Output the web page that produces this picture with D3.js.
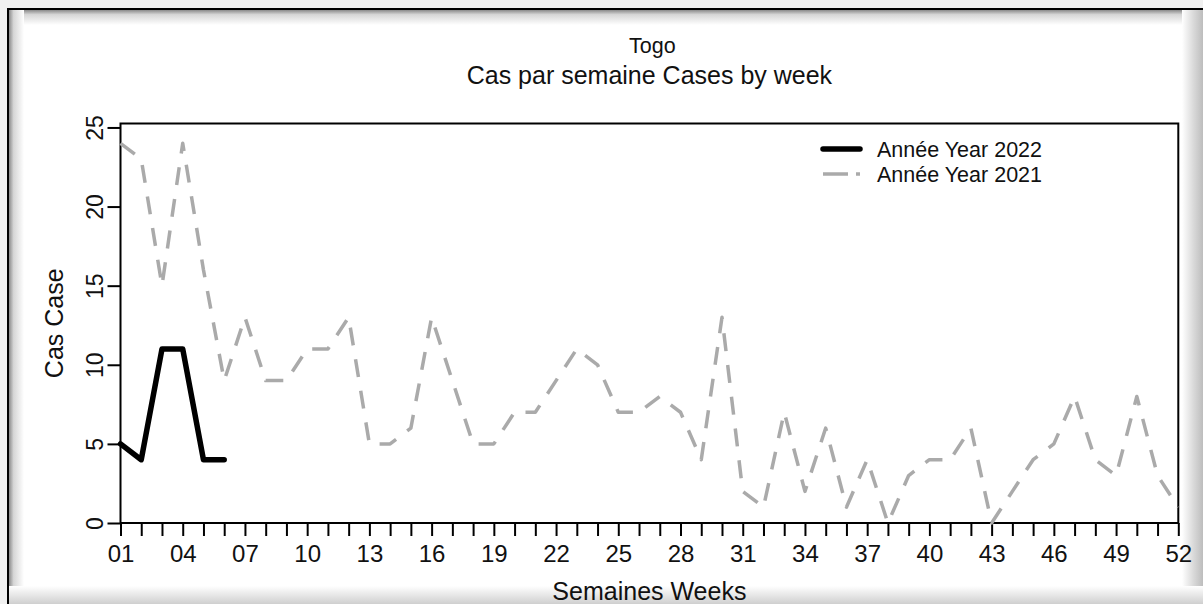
<!DOCTYPE html>
<html>
<head>
<meta charset="utf-8">
<script src="https://cdn.jsdelivr.net/npm/d3@7/dist/d3.min.js"></script>
<style>
  html, body { margin: 0; padding: 0; background: #f0f0f0; }
  svg { display: block; }
  text { font-family: "Liberation Sans", Arial, sans-serif; fill: #111; }
</style>
</head>
<body>
<svg id="chart" width="1203" height="604"></svg>
<script>
// Weekly case counts, Togo
const weeks = d3.range(1, 53);
const cases2022 = [5, 4, 11, 11, 4, 4];
const cases2021 = [24, 23, 15, 24, 16, 9, 13, 9, 9, 11, 11, 13, 5, 5, 6, 13, 9, 5, 5, 7,
                   7, 9, 11, 10, 7, 7, 8, 7, 4, 13, 2, 1, 7, 2, 6, 1, 4, 0, 3, 4,
                   4, 6, 0, 2, 4, 5, 8, 4, 3, 8, 3, 1];
const xTickLabels = ["01","04","07","10","13","16","19","22","25","28","31","34","37","40","43","46","49","52"];
const yTicks = [0, 5, 10, 15, 20, 25];
const titleLines = ["Togo", "Cas par semaine Cases by week"];
const xTitle = "Semaines Weeks";
const yTitle = "Cas Case";
const legendLabels = ["Année Year 2022", "Année Year 2021"];

const W = 1203, H = 604;
const plot = { left: 120.5, right: 1178.3, top: 123.5, bottom: 523 };

const svg = d3.select("#chart");
const defs = svg.append("defs");

// window frame: white canvas with inner shadow on top/left, soft shade right/bottom
function vGrad(id, stops, horizontal) {
  const g = defs.append("linearGradient").attr("id", id)
    .attr("x1", 0).attr("y1", 0).attr("x2", horizontal ? 1 : 0).attr("y2", horizontal ? 0 : 1);
  stops.forEach(([o, c]) => g.append("stop").attr("offset", o).attr("stop-color", c));
}
vGrad("shTop", [[0, "#7a7a7a"], [0.35, "#d6d6d6"], [1, "#ffffff"]], false);
vGrad("shLeft", [[0, "#7a7a7a"], [0.35, "#d6d6d6"], [1, "#ffffff"]], true);
vGrad("shRight", [[0, "#ffffff"], [0.55, "#d9d9d9"], [1, "#bdbdbd"]], true);
vGrad("shBottom", [[0, "#ffffff"], [1, "#cfcfcf"]], false);

svg.append("rect").attr("x", 0).attr("y", 0).attr("width", W).attr("height", H).attr("fill", "#f0f0f0");
svg.append("rect").attr("x", 8).attr("y", 9).attr("width", W - 8).attr("height", H - 9).attr("fill", "#ffffff");
svg.append("rect").attr("x", 8).attr("y", 9).attr("width", W - 8).attr("height", 16).attr("fill", "url(#shTop)");
svg.append("rect").attr("x", 8).attr("y", 9).attr("width", 16).attr("height", H - 9).attr("fill", "url(#shLeft)");
svg.append("rect").attr("x", 1182).attr("y", 9).attr("width", W - 1182).attr("height", H - 9).attr("fill", "url(#shRight)");
svg.append("rect").attr("x", 8).attr("y", 586).attr("width", W - 8).attr("height", H - 586).attr("fill", "url(#shBottom)");
svg.append("line").attr("x1", 8).attr("x2", W).attr("y1", 9).attr("y2", 9).attr("stroke", "#000").attr("stroke-width", 2);
svg.append("line").attr("x1", 8).attr("x2", 8).attr("y1", 8).attr("y2", H).attr("stroke", "#000").attr("stroke-width", 2);

// scales
const x = d3.scaleLinear().domain([1, 52]).range([plot.left, plot.right]);
const y = d3.scaleLinear().domain([0, 25.25]).range([plot.bottom, plot.top]);

// titles
const cx = (plot.left + plot.right) / 2;
svg.append("text").attr("x", cx + 3).attr("y", 53).attr("text-anchor", "middle")
  .style("font-size", "21.5px").text(titleLines[0]);
svg.append("text").attr("x", cx).attr("y", 84).attr("text-anchor", "middle")
  .style("font-size", "25px").text(titleLines[1]);

// axes
const xAxis = d3.axisBottom(x)
  .tickValues(weeks)
  .tickSize(13)
  .tickFormat(d => { const s = String(d).padStart(2, "0"); return xTickLabels.includes(s) ? s : ""; });
const gx = svg.append("g").attr("transform", `translate(0,${plot.bottom})`).call(xAxis);
gx.select(".domain").remove();
gx.selectAll(".tick line").attr("stroke", "#000").attr("stroke-width", 2);
gx.selectAll(".tick text").attr("y", 39).attr("dy", 0)
  .style("font-size", "24px").style("font-family", "Liberation Sans, Arial, sans-serif").attr("fill", "#111");

const yAxis = d3.axisLeft(y).tickValues(yTicks).tickSize(13).tickFormat(d3.format("d"));
const gy = svg.append("g").attr("transform", `translate(${plot.left},0)`).call(yAxis);
gy.select(".domain").remove();
gy.selectAll(".tick line").attr("stroke", "#000").attr("stroke-width", 2);
gy.selectAll(".tick text")
  .attr("x", 0).attr("dy", 0)
  .attr("transform", "translate(-18,0) rotate(-90)")
  .attr("text-anchor", "middle")
  .style("font-size", "23px").style("font-family", "Liberation Sans, Arial, sans-serif").attr("fill", "#111");

// plot frame
svg.append("rect")
  .attr("x", plot.left).attr("y", plot.top)
  .attr("width", plot.right - plot.left).attr("height", plot.bottom - plot.top)
  .attr("fill", "none").attr("stroke", "#000").attr("stroke-width", 2);

// axis titles
svg.append("text").attr("x", cx).attr("y", 600).attr("text-anchor", "middle")
  .style("font-size", "25px").text(xTitle);
svg.append("text").attr("transform", `translate(63,${(plot.top + plot.bottom) / 2}) rotate(-90)`)
  .attr("text-anchor", "middle").style("font-size", "25px").text(yTitle);

// series
const line = d3.line().x((d, i) => x(weeks[i])).y(d => y(d));

svg.append("path").datum(cases2021)
  .attr("d", line)
  .attr("fill", "none")
  .attr("stroke", "#aaaaaa")
  .attr("stroke-width", 3.5)
  .attr("stroke-dasharray", "18 14")
  .attr("stroke-linejoin", "round");

svg.append("path").datum(cases2022)
  .attr("d", line)
  .attr("fill", "none")
  .attr("stroke", "#000")
  .attr("stroke-width", 5.5)
  .attr("stroke-linejoin", "round")
  .attr("stroke-linecap", "round");

// legend
const legend = svg.append("g");
const legendItems = [
  { label: legendLabels[0], color: "#000", width: 5.5, dash: null, y: 149 },
  { label: legendLabels[1], color: "#aaaaaa", width: 3.5, dash: "25 8", y: 174 }
];
legendItems.forEach(it => {
  const ln = legend.append("line")
    .attr("x1", 823).attr("x2", 860).attr("y1", it.y).attr("y2", it.y)
    .attr("stroke", it.color).attr("stroke-width", it.width);
  if (it.dash) ln.attr("stroke-dasharray", it.dash);
  else ln.attr("stroke-linecap", "round");
  legend.append("text").attr("x", 877).attr("y", it.y + 8)
    .style("font-size", "21.5px").text(it.label);
});
</script>
</body>
</html>
